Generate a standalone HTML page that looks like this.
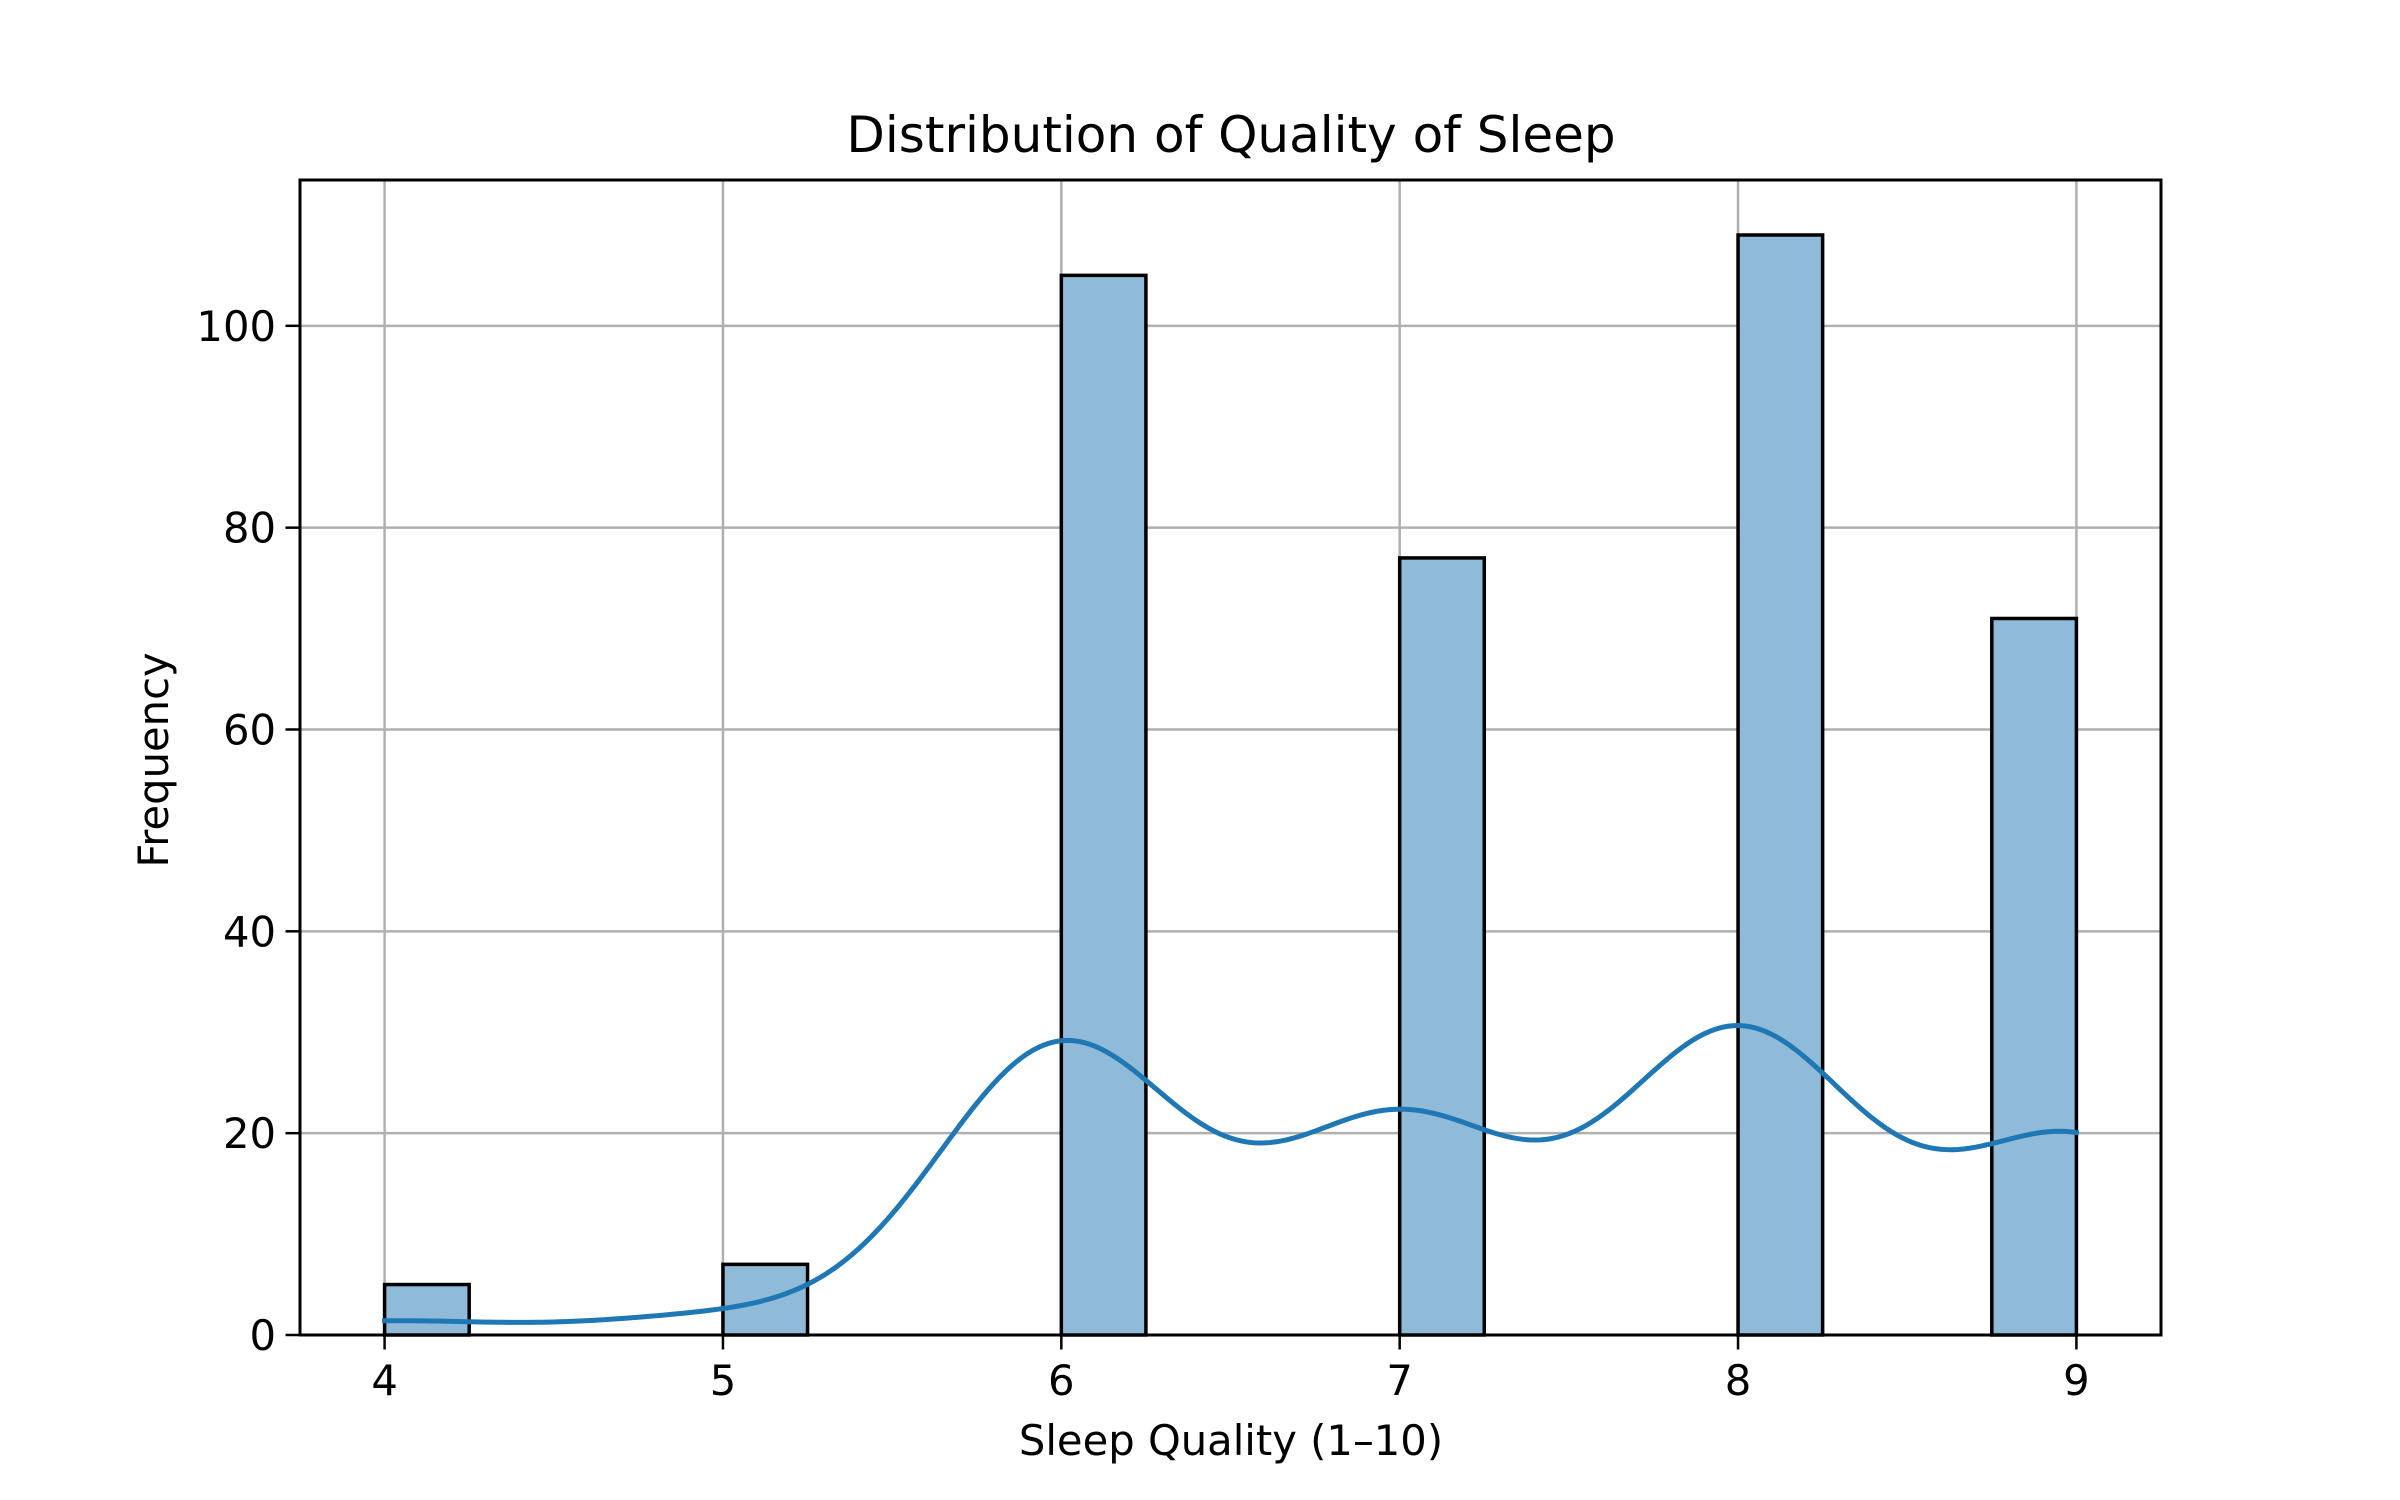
<!DOCTYPE html>
<html><head><meta charset="utf-8"><style>
html,body{margin:0;padding:0;background:#fff;}
svg{display:block;font-family:"DejaVu Sans","Liberation Sans",sans-serif;}
</style></head><body>
<svg id="chart" width="2400" height="1500" viewBox="0 0 2400 1500" xmlns="http://www.w3.org/2000/svg">
<rect width="2400" height="1500" fill="#fff"/>
<g id="grid"></g>
<g id="bars"></g>
<g id="kde"></g>
<g id="axes"></g>
<text x="1231" y="152" font-size="50" text-anchor="middle">Distribution of Quality of Sleep</text>
<text x="1231" y="1455" font-size="41.7" text-anchor="middle">Sleep Quality (1–10)</text>
<text transform="translate(168,760) rotate(-90)" font-size="41.7" text-anchor="middle">Frequency</text>
</svg>
<script>
const binStarts = [4, 5, 6, 7, 8, 8.75];
const binCounts = [5, 7, 105, 77, 109, 71];
const dataValues = [4, 5, 6, 7, 8, 9];
const binWidth = 0.25;
const xTicks = [4, 5, 6, 7, 8, 9];
const yTicks = [0, 20, 40, 60, 80, 100];

const L = 300, R = 2161, T = 180, B = 1335;
const xMin = 3.75, xMax = 9.25, yMin = 0, yMax = 114.45;
const NS = 'http://www.w3.org/2000/svg';
function xs(v){ return L + (v - xMin) / (xMax - xMin) * (R - L); }
function ys(v){ return B - (v - yMin) / (yMax - yMin) * (B - T); }
function mk(tag, attrs, parent){
  const e = document.createElementNS(NS, tag);
  for (const k in attrs) e.setAttribute(k, attrs[k]);
  parent.appendChild(e); return e;
}
const grid = document.getElementById('grid');
const bars = document.getElementById('bars');
const kde = document.getElementById('kde');
const axes = document.getElementById('axes');

xTicks.forEach(t => {
  const g = mk('line', {x1: xs(t), x2: xs(t), y1: T, y2: B, stroke: '#b0b0b0', 'stroke-width': 2.5}, grid);
  
  
  const tk = mk('line', {x1: xs(t), x2: xs(t), y1: B, y2: B + 14.5, stroke: '#000', 'stroke-width': 2.5}, axes);
  
  
  const lb = mk('text', {x: xs(t), y: B + 60, 'font-size': 41.7, 'text-anchor': 'middle'}, axes);
  lb.textContent = t;
  
  
});
yTicks.forEach(t => {
  const g = mk('line', {x1: L, x2: R, y1: ys(t), y2: ys(t), stroke: '#b0b0b0', 'stroke-width': 2.5}, grid);
  
  
  const tk = mk('line', {x1: L - 14.5, x2: L, y1: ys(t), y2: ys(t), stroke: '#000', 'stroke-width': 2.5}, axes);
  
  
  const lb = mk('text', {x: L - 24, y: ys(t) + 15, 'font-size': 41.7, 'text-anchor': 'end'}, axes);
  lb.textContent = t;
  
  
});
binStarts.forEach((s, i) => {
  const x0 = xs(s), x1 = xs(s + binWidth), y = ys(binCounts[i]);
  const r = mk('rect', {x: x0, y: y, width: x1 - x0, height: B - y, fill: '#8fbbd9', stroke: '#000', 'stroke-width': 3.5}, bars);
  
  
});
// Gaussian KDE (Scott bandwidth) from the histogram data, scaled to counts
const n = binCounts.reduce((a, b) => a + b, 0);
let mean = 0; dataValues.forEach((v, i) => mean += v * binCounts[i]); mean /= n;
let vr = 0; dataValues.forEach((v, i) => vr += binCounts[i] * (v - mean) ** 2); vr /= (n - 1);
const bw = Math.sqrt(vr) * Math.pow(n, -0.2);
let d = '';
const xa = dataValues[0], xb = dataValues[dataValues.length - 1];
for (let k = 0; k <= 300; k++) {
  const x = xa + (xb - xa) * k / 300;
  let dens = 0;
  dataValues.forEach((v, i) => dens += binCounts[i] * Math.exp(-0.5 * ((x - v) / bw) ** 2));
  dens = dens / (n * bw * Math.sqrt(2 * Math.PI));
  const c = dens * n * binWidth;
  d += (k ? 'L' : 'M') + xs(x).toFixed(2) + ',' + ys(c).toFixed(2);
}
const p = mk('path', {d: d, fill: 'none', stroke: '#1f77b4', 'stroke-width': 5, 'stroke-linecap': 'square'}, kde);


const frame = mk('rect', {x: L, y: T, width: R - L, height: B - T, fill: 'none', stroke: '#000', 'stroke-width': 3}, axes);


</script>
</body></html>
